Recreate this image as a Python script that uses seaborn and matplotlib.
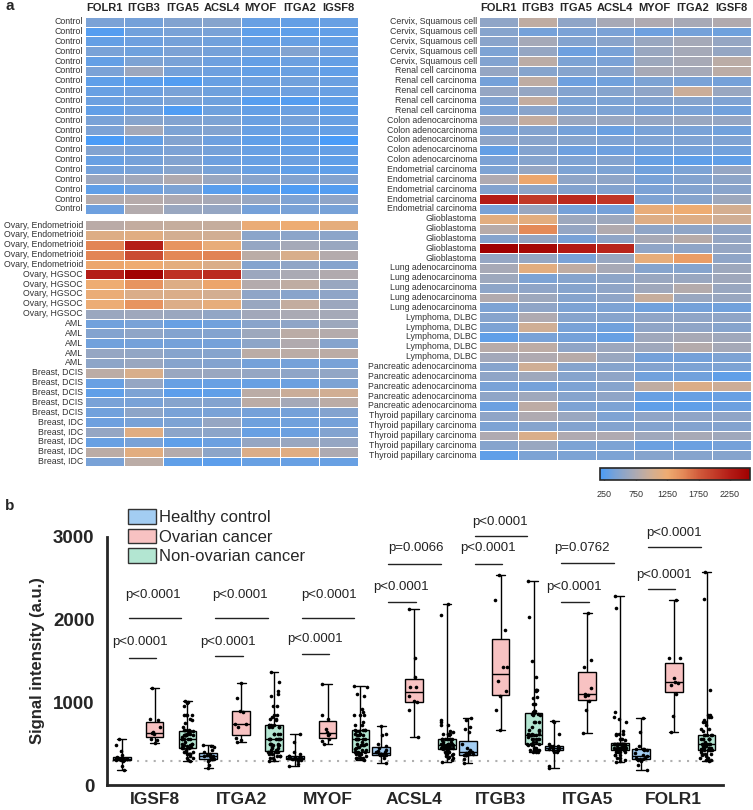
#tissue heatmap + boxplot of marker signal
import numpy as np
import pandas as pd
import matplotlib
matplotlib.use('Agg')
from matplotlib import pyplot as plt
from matplotlib.colors import LinearSegmentedColormap
from matplotlib.patches import Patch
import seaborn as sns

sns.set_style('white')
plt.rcParams['font.family'] = ['Liberation Sans', 'DejaVu Sans']

#data
heat_markers = ['FOLR1', 'ITGB3', 'ITGA5', 'ACSL4', 'MYOF', 'ITGA2', 'IGSF8']
box_markers = ['IGSF8', 'ITGA2', 'MYOF', 'ACSL4', 'ITGB3', 'ITGA5', 'FOLR1']
group_names = ['Healthy control', 'Ovarian cancer', 'Non-ovarian cancer']
group_colors = ['#a3cdf2', '#f8c2c2', '#b3e6d2']

control_labels = ['Control'] * 20
control_values = [
    [430, 400, 470, 500, 330, 320, 330],
    [240, 380, 420, 420, 290, 290, 310],
    [320, 360, 400, 380, 320, 330, 320],
    [420, 370, 440, 400, 380, 470, 360],
    [320, 450, 420, 360, 320, 350, 320],
    [430, 640, 400, 360, 320, 340, 310],
    [290, 270, 230, 330, 350, 380, 340],
    [330, 360, 420, 370, 350, 360, 330],
    [350, 390, 450, 370, 250, 240, 300],
    [310, 360, 209, 370, 320, 350, 300],
    [420, 500, 470, 450, 340, 400, 330],
    [440, 700, 450, 470, 330, 330, 320],
    [177, 320, 470, 360, 300, 310, 181],
    [470, 400, 440, 400, 330, 320, 320],
    [330, 400, 470, 360, 330, 350, 300],
    [390, 420, 500, 410, 330, 300, 290],
    [640, 680, 773, 620, 520, 483, 480],
    [300, 360, 450, 262, 233, 209, 230],
    [805, 813, 760, 713, 612, 460, 555],
    [360, 790, 620, 600, 400, 420, 410],
]

ovarian_labels = ['Ovary, Endometrioid'] * 5 + ['Ovary, HGSOC'] * 5
ovarian_values = [
    [835, 905, 910, 910, 1216, 1236, 1175],
    [1100, 1130, 1010, 1000, 530, 540, 540],
    [1530, 2234, 1430, 1190, 600, 700, 620],
    [1530, 1876, 1510, 1540, 850, 1050, 800],
    [1296, 1260, 1167, 1075, 491, 570, 505],
    [2238, 2536, 2077, 2126, 640, 740, 780],
    [1250, 1430, 1100, 1306, 800, 880, 625],
    [1210, 1075, 1075, 1010, 560, 523, 560],
    [1230, 1430, 1090, 1180, 620, 900, 640],
    [636, 660, 632, 580, 680, 735, 700],
]

other_left_labels = ['AML'] * 5 + ['Breast, DCIS'] * 5 + ['Breast, IDC'] * 5
other_left_values = [
    [380, 420, 330, 380, 520, 560, 650],
    [480, 560, 480, 480, 650, 850, 800],
    [380, 400, 400, 400, 550, 780, 500],
    [600, 580, 500, 500, 850, 850, 850],
    [550, 620, 500, 480, 400, 400, 420],
    [850, 1050, 620, 620, 600, 560, 580],
    [330, 600, 330, 330, 330, 350, 450],
    [300, 450, 280, 300, 850, 950, 1000],
    [420, 420, 500, 480, 850, 700, 850],
    [380, 550, 420, 420, 400, 400, 480],
    [360, 420, 450, 600, 370, 380, 400],
    [600, 1130, 540, 540, 330, 350, 470],
    [330, 420, 290, 350, 600, 620, 600],
    [850, 1150, 800, 550, 1080, 1130, 750],
    [420, 850, 300, 282, 330, 330, 330],
]

right_labels = (['Cervix, Squamous cell'] * 5 + ['Renal cell carcinoma'] * 5 +
                ['Colon adenocarcinoma'] * 5 + ['Endometrial carcinoma'] * 5 +
                ['Glioblastoma'] * 5 + ['Lung adenocarcinoma'] * 5 +
                ['Lymphoma, DLBC'] * 5 + ['Pancreatic adenocarcinoma'] * 5 +
                ['Thyroid papillary carcinoma'] * 5)
right_values = [
    [560, 880, 560, 720, 760, 720, 780],
    [500, 400, 430, 430, 360, 400, 370],
    [520, 700, 480, 520, 620, 700, 600],
    [450, 600, 360, 420, 620, 700, 600],
    [470, 850, 450, 430, 650, 720, 850],
    [600, 500, 500, 520, 720, 700, 850],
    [400, 870, 360, 380, 450, 420, 400],
    [600, 600, 480, 500, 560, 950, 620],
    [470, 900, 450, 450, 480, 500, 460],
    [420, 520, 450, 450, 400, 420, 380],
    [680, 900, 620, 620, 600, 620, 600],
    [420, 480, 400, 340, 420, 420, 380],
    [560, 520, 500, 460, 460, 460, 460],
    [320, 480, 360, 360, 380, 400, 380],
    [440, 500, 460, 480, 330, 290, 294],
    [450, 600, 450, 450, 380, 450, 600],
    [760, 1300, 560, 560, 420, 480, 550],
    [480, 560, 480, 480, 440, 480, 520],
    [2250, 2025, 2141, 2050, 460, 500, 650],
    [420, 620, 400, 400, 1196, 1250, 1014],
    [1150, 1150, 650, 650, 1100, 1100, 990],
    [820, 1500, 600, 780, 560, 560, 560],
    [500, 600, 420, 560, 720, 820, 600],
    [2576, 2468, 2286, 2182, 560, 560, 600],
    [600, 600, 420, 620, 1180, 1361, 560],
    [720, 1150, 880, 720, 500, 500, 650],
    [650, 450, 500, 550, 620, 620, 660],
    [550, 560, 500, 560, 660, 800, 620],
    [780, 650, 500, 560, 920, 620, 620],
    [450, 560, 450, 450, 380, 400, 380],
    [500, 760, 500, 500, 560, 560, 560],
    [450, 980, 420, 380, 560, 560, 500],
    [300, 420, 400, 330, 660, 720, 660],
    [820, 860, 560, 640, 660, 800, 700],
    [680, 760, 820, 620, 400, 400, 450],
    [500, 980, 500, 500, 480, 450, 450],
    [560, 660, 500, 560, 380, 380, 300],
    [420, 400, 450, 500, 880, 1080, 960],
    [560, 660, 500, 560, 330, 330, 330],
    [350, 860, 450, 450, 300, 300, 350],
    [560, 760, 620, 460, 560, 560, 560],
    [450, 500, 480, 480, 480, 480, 480],
    [760, 1060, 760, 760, 660, 720, 660],
    [500, 620, 450, 450, 350, 350, 400],
    [294, 450, 450, 450, 500, 500, 500],
]

cbar_ticks = [250, 750, 1250, 1750, 2250]
vmin, vmax = 180, 2570
cmap_values = [180, 420, 750, 1000, 1250, 1500, 1750, 2250, 2570]
cmap_colors = ['#4a9cf8', '#7aa2d6', '#adaab2', '#d2ae92', '#eeac72',
               '#e48a58', '#d25c3c', '#b41c16', '#a00000']

threshold = 290
# (marker, x0, x1, line y, text y, text dx, label)
pvals = [
    ('IGSF8', -0.30, 0.02, 1537, 1725, -0.17, 'p<0.0001'),
    ('IGSF8', -0.30, 0.31, 2020, 2295, -0.02, 'p<0.0001'),
    ('ITGA2', -0.30, 0.02, 1557, 1731, -0.15, 'p<0.0001'),
    ('ITGA2', -0.30, 0.31, 2020, 2295, -0.01, 'p<0.0001'),
    ('MYOF', -0.30, 0.02, 1582, 1763, -0.15, 'p<0.0001'),
    ('MYOF', -0.30, 0.31, 2020, 2295, 0.02, 'p<0.0001'),
    ('ACSL4', -0.30, 0.02, 2214, 2395, -0.15, 'p<0.0001'),
    ('ACSL4', -0.30, 0.31, 2669, 2858, 0.02, 'p=0.0066'),
    ('ITGB3', -0.30, 0.02, 2669, 2858, -0.15, 'p<0.0001'),
    ('ITGB3', -0.30, 0.31, 3007, 3180, -0.01, 'p<0.0001'),
    ('ITGA5', -0.30, 0.02, 2214, 2395, -0.15, 'p<0.0001'),
    ('ITGA5', -0.30, 0.31, 2678, 2858, -0.06, 'p=0.0762'),
    ('FOLR1', -0.30, 0.02, 2363, 2536, -0.11, 'p<0.0001'),
    ('FOLR1', -0.30, 0.31, 2871, 3040, 0.0, 'p<0.0001'),
]

W, H = 753, 810
fig = plt.figure(figsize=(W / 100, H / 100), dpi=100)

def px_axes(x, y_top, w, h):
    return fig.add_axes([x / W, 1 - (y_top + h) / H, w / W, h / H])

cmap = LinearSegmentedColormap.from_list(
    'sig', [((v - vmin) / (vmax - vmin), c) for v, c in zip(cmap_values, cmap_colors)])

row_h = 9.85

def draw_heat(ax, values, labels, show_cols):
    df = pd.DataFrame(values, columns=heat_markers)
    sns.heatmap(df, ax=ax, cmap=cmap, vmin=vmin, vmax=vmax, cbar=False,
                linewidths=0.7, linecolor='white', xticklabels=show_cols, yticklabels=True)
    ax.set_yticklabels(labels, rotation=0, fontsize=6.3, color='#333333')
    ax.tick_params(length=0, pad=1.5)
    if show_cols:
        ax.xaxis.tick_top()
        ax.set_xticklabels(heat_markers, rotation=0, fontsize=8, fontweight='bold')
        ax.tick_params(axis='x', pad=3)
    ax.set_xlabel('')
    ax.set_ylabel('')

ax1 = px_axes(85, 16.8, 273, 20 * row_h)
draw_heat(ax1, control_values, control_labels, True)
ax2 = px_axes(85, 220.1, 273, 25 * row_h)
draw_heat(ax2, ovarian_values + other_left_values, ovarian_labels + other_left_labels, False)
ax3 = px_axes(479, 16.8, 272, 45 * row_h)
draw_heat(ax3, right_values, right_labels, True)

#colorbar
cax = px_axes(600, 468, 150, 12)
cb = fig.colorbar(ax3.collections[0], cax=cax, orientation='horizontal', ticks=cbar_ticks)
cb.outline.set_linewidth(1.2)
cax.tick_params(direction='in', length=2, width=1, labelsize=6.5, pad=7, colors='#333333')

fig.text(6 / W, 1 - 10 / H, 'a', fontsize=11, fontweight='bold')
fig.text(5 / W, 1 - 510 / H, 'b', fontsize=11, fontweight='bold')

#boxplot panel
rows = []
all_groups = [control_values, ovarian_values, other_left_values + right_values]
for gname, vals in zip(group_names, all_groups):
    for r in vals:
        for m, v in zip(heat_markers, r):
            rows.append((m, gname, v))
long = pd.DataFrame(rows, columns=['marker', 'group', 'signal'])
offsets = {'Healthy control': -0.38, 'Ovarian cancer': 0.0, 'Non-ovarian cancer': 0.38}
long['pos'] = long['marker'].map({m: i for i, m in enumerate(box_markers)}) + long['group'].map(offsets)

axb = px_axes(107, 536.7, 616, 248.3)
sns.boxplot(data=long, x='pos', y='signal', hue='group', hue_order=group_names,
            palette=group_colors, native_scale=True, dodge=False, width=0.85,
            whis=(0, 100), showfliers=False, linewidth=1, linecolor='black',
            saturation=1, legend=False, ax=axb)
np.random.seed(3)
sns.stripplot(data=long, x='pos', y='signal', native_scale=True, color='black',
              size=2.6, jitter=0.3, ax=axb, zorder=3, legend=False)
axb.axhline(threshold, xmin=0.008, xmax=0.995, color='#b0b0b0', ls=(0, (1, 3)), lw=1.5, zorder=1)

for m, x0, x1, ly, ty, dx, lab in pvals:
    g = box_markers.index(m)
    axb.plot([g + x0, g + x1], [ly, ly], color='#222222', lw=1, clip_on=False)
    axb.text(g + dx, ty, lab, ha='center', va='center', fontsize=9.5, color='#222222', clip_on=False)

axb.set_xlim(-0.55, 6.57)
axb.set_ylim(0, 3000)
axb.set_xticks(range(len(box_markers)))
axb.set_xticklabels(box_markers, fontsize=12.5, fontweight='bold')
axb.set_yticks([0, 1000, 2000, 3000])
axb.set_yticklabels(['0', '1000', '2000', '3000'], fontsize=13.5, fontweight='bold')
axb.set_xlabel('')
axb.set_ylabel('Signal intensity (a.u.)', fontsize=12, fontweight='bold', labelpad=6)
sns.despine(ax=axb)
for s in ['left', 'bottom']:
    axb.spines[s].set_linewidth(2)
axb.tick_params(axis='both', direction='out', length=6, width=2, pad=3)
axb.tick_params(axis='x', length=4, pad=1)

handles = [Patch(facecolor=c, edgecolor='#333333', linewidth=1) for c in group_colors]
axb.legend(handles, group_names, loc='upper left', bbox_to_anchor=(128 / W, 1 - 509 / H),
           bbox_transform=fig.transFigure, frameon=False, fontsize=12, borderpad=0,
           borderaxespad=0, handlelength=1.66, handleheight=1.0, handletextpad=0.2,
           labelspacing=0.2)

plt.savefig('out.png', dpi=100)
